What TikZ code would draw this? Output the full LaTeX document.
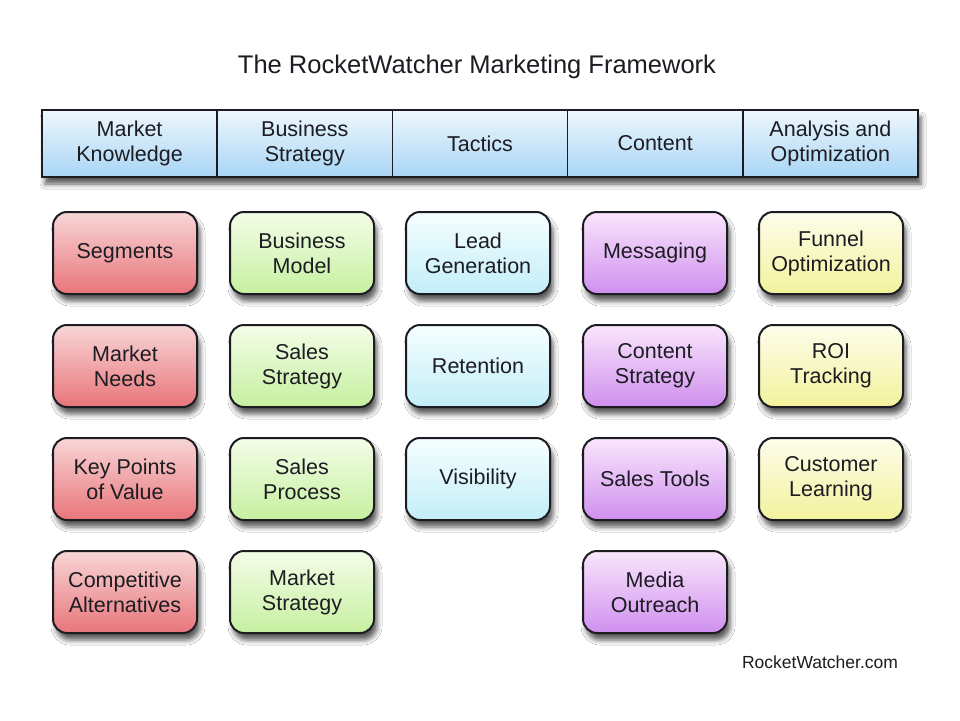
\documentclass[tikz,border=0pt]{standalone}
\usepackage{fontspec}
\setmainfont{Liberation Sans}
\usetikzlibrary{shadows.blur}
\definecolor{hdtop}{HTML}{EEF7FD}
\definecolor{hdbot}{HTML}{A9D5F5}
\definecolor{redtop}{HTML}{F8D6D6}
\definecolor{redbot}{HTML}{E8757A}
\definecolor{grntop}{HTML}{F4FDE8}
\definecolor{grnbot}{HTML}{C6F0A0}
\definecolor{cyntop}{HTML}{F6FEFF}
\definecolor{cynbot}{HTML}{C2EEF8}
\definecolor{prptop}{HTML}{FAE6FC}
\definecolor{prpbot}{HTML}{CF8FEE}
\definecolor{ylwtop}{HTML}{FDFDEC}
\definecolor{ylwbot}{HTML}{F3F29C}
\definecolor{ink}{HTML}{1C1C22}
\tikzset{
  txt/.style={font=\fontsize{21.5}{25}\selectfont, text=ink, align=center},
  hcell/.style={txt, rectangle, draw=ink, line width=1.6pt, minimum width=175.2pt, minimum height=67pt, inner sep=0pt, top color=hdtop, bottom color=hdbot},
  card/.style={txt, rectangle, rounded corners=14pt, draw=ink, line width=2pt, minimum width=144pt, minimum height=82pt, inner sep=0pt,
    blur shadow={shadow xshift=3pt, shadow yshift=-7pt, shadow blur radius=5pt, shadow opacity=65}},
  red/.style={card, top color=redtop, bottom color=redbot},
  grn/.style={card, top color=grntop, bottom color=grnbot},
  cyn/.style={card, top color=cyntop, bottom color=cynbot},
  prp/.style={card, top color=prptop, bottom color=prpbot},
  ylw/.style={card, top color=ylwtop, bottom color=ylwbot},
}
\begin{document}
\begin{tikzpicture}[x=1pt,y=-1pt]
\useasboundingbox (0,0) rectangle (960,720);
\fill[white] (0,0) rectangle (960,720);
\node[font=\fontsize{25.5}{29}\selectfont, text=ink] (title) at (477,67) {The RocketWatcher Marketing Framework};
% header bar
\node[rectangle, minimum width=876pt, minimum height=67pt, inner sep=0pt, fill=white,
  blur shadow={shadow xshift=3pt, shadow yshift=-7pt, shadow blur radius=5pt, shadow opacity=65}] (bar) at (480,143.5) {};
\node[hcell] (h1) at (129.6,143.5) {Market\\Knowledge};
\node[hcell] (h2) at (304.8,143.5) {Business\\Strategy};
\node[hcell] (h3) at (480,143.5) {Tactics};
\node[hcell] (h4) at (655.2,143.5) {Content};
\node[hcell] (h5) at (830.4,143.5) {Analysis and\\Optimization};
% column 1
\node[red] (r1) at (125,253) {Segments};
\node[red] (r2) at (125,366) {Market\\Needs};
\node[red] (r3) at (125,479) {Key Points\\of Value};
\node[red] (r4) at (125,592) {Competitive\\Alternatives};
% column 2
\node[grn] (g1) at (302,253) {Business\\Model};
\node[grn] (g2) at (302,366) {Sales\\Strategy};
\node[grn] (g3) at (302,479) {Sales\\Process};
\node[grn] (g4) at (302,592) {Market\\Strategy};
% column 3
\node[cyn] (c1) at (478,253) {Lead\\Generation};
\node[cyn] (c2) at (478,366) {Retention};
\node[cyn] (c3) at (478,479) {Visibility};
% column 4
\node[prp] (p1) at (655,253) {Messaging};
\node[prp] (p2) at (655,366) {Content\\Strategy};
\node[prp] (p3) at (655,479) {Sales Tools};
\node[prp] (p4) at (655,592) {Media\\Outreach};
% column 5
\node[ylw] (y1) at (831,253) {Funnel\\Optimization};
\node[ylw] (y2) at (831,366) {ROI\\Tracking};
\node[ylw] (y3) at (831,479) {Customer\\Learning};
% footer
\node[font=\fontsize{17.5}{20}\selectfont, text=ink] (site) at (820,662) {RocketWatcher.com};
\end{tikzpicture}
\end{document}
